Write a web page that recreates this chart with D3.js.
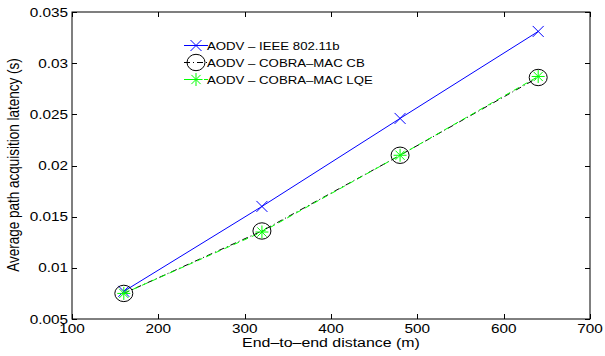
<!DOCTYPE html>
<html><head><meta charset="utf-8">
<script src="https://cdn.jsdelivr.net/npm/d3@7"></script>
<style>body{margin:0;background:#fff}svg{display:block}text{font-family:"Liberation Sans",Arial,Helvetica,sans-serif;fill:#000}</style>
</head><body>
<svg id="c" width="605" height="356"></svg>
<script>
const distances = [160, 320, 480, 640];
const ieee = [0.0077, 0.0160, 0.0246, 0.0331];
const cobraCB = [0.0075, 0.0136, 0.0210, 0.0286];
const cobraLQE = [0.0075, 0.0135, 0.0210, 0.0287];
const seriesNames = ["AODV \u2013 IEEE 802.11b", "AODV \u2013 COBRA\u2013MAC CB", "AODV \u2013 COBRA\u2013MAC LQE"];
const xTicks = [100, 200, 300, 400, 500, 600, 700];
const yTicks = [0.005, 0.01, 0.015, 0.02, 0.025, 0.03, 0.035];
const xTickLabels = ["100", "200", "300", "400", "500", "600", "700"];
const yTickLabels = ["0.005", "0.01", "0.015", "0.02", "0.025", "0.03", "0.035"];

const SX = 1.18;
const svg = d3.select("#c");
const L = 72, R = 590, T = 12, B = 319;
const x = d3.scaleLinear().domain([100, 700]).range([L, R]);
const y = d3.scaleLinear().domain([0.005, 0.035]).range([B, T]);

function stext(g, px, py, str, size, anchor) {
  return g.append("text").attr("transform", `translate(${px},${py}) scale(${SX},1)`)
    .attr("text-anchor", anchor).style("font-size", size + "px").text(str);
}

// box
svg.append("rect").attr("x", L).attr("y", T).attr("width", R - L).attr("height", B - T)
  .attr("fill", "none").attr("stroke", "#000").attr("stroke-width", 1);

const tk = 5;
const gx = svg.append("g");
xTicks.forEach((v, i) => {
  const px = Math.round(x(v)) + 0.5;
  gx.append("line").attr("x1", px).attr("x2", px).attr("y1", B).attr("y2", B - tk).attr("stroke", "#000");
  gx.append("line").attr("x1", px).attr("x2", px).attr("y1", T).attr("y2", T + tk).attr("stroke", "#000");
  stext(gx, x(v), B + 13.5, xTickLabels[i], 13, "middle");
});
yTicks.forEach((v, i) => {
  const py = Math.round(y(v)) + 0.5;
  gx.append("line").attr("x1", L).attr("x2", L + tk).attr("y1", py).attr("y2", py).attr("stroke", "#000");
  gx.append("line").attr("x1", R).attr("x2", R - tk).attr("y1", py).attr("y2", py).attr("stroke", "#000");
  stext(gx, L - 4, y(v) + 4.5, yTickLabels[i], 13, "end");
});

// axis labels
stext(svg, (L + R) / 2, 347, "End\u2013to\u2013end distance (m)", 13.5, "middle");
svg.append("text").attr("transform", `translate(19,165) scale(${SX},1) rotate(-90)`)
  .attr("text-anchor", "middle").style("font-size", "13.5px").text("Average path acquisition latency (s)");

const line = d3.line().x(d => x(d[0])).y(d => y(d[1]));
const pts = arr => distances.map((d, i) => [d, arr[i]]);

// markers
function xMark(g, cx, cy, color, s) {
  g.append("path").attr("d", `M${cx - s},${cy - s}L${cx + s},${cy + s}M${cx - s},${cy + s}L${cx + s},${cy - s}`)
    .attr("stroke", color).attr("stroke-width", 1).attr("fill", "none");
}
function circMark(g, cx, cy) {
  g.append("ellipse").attr("cx", cx).attr("cy", cy).attr("rx", 9).attr("ry", 8.2)
    .attr("stroke", "#000").attr("stroke-width", 1).attr("fill", "none");
}
function starMark(g, cx, cy, color) {
  const r = 6.5, d = 4.6;
  g.append("path").attr("d", `M${cx - r},${cy}L${cx + r},${cy}M${cx},${cy - r}L${cx},${cy + r}M${cx - d},${cy - d}L${cx + d},${cy + d}M${cx - d},${cy + d}L${cx + d},${cy - d}`)
    .attr("stroke", color).attr("stroke-width", 1).attr("fill", "none");
}

const plot = svg.append("g");
plot.append("path").attr("d", line(pts(ieee))).attr("stroke", "#0000ff").attr("fill", "none").attr("stroke-width", 1);
plot.append("path").attr("d", line(pts(cobraCB))).attr("stroke", "#000").attr("fill", "none").attr("stroke-width", 1).attr("stroke-dasharray", "6,3,1,3");
plot.append("path").attr("d", line(pts(cobraLQE))).attr("stroke", "#00ff00").attr("fill", "none").attr("stroke-width", 1).attr("stroke-dasharray", "6,4");
pts(ieee).forEach(p => xMark(plot, x(p[0]), y(p[1]), "#0000ff", 5.5));
pts(cobraCB).forEach(p => circMark(plot, x(p[0]), y(p[1])));
pts(cobraLQE).forEach(p => starMark(plot, x(p[0]), y(p[1]), "#00ff00"));

// legend
const lg = svg.append("g");
const rows = [45.5, 62.5, 79.5];
const lx0 = 184, lx1 = 208, lm = 196;
lg.append("line").attr("x1", lx0).attr("x2", lx1).attr("y1", rows[0]).attr("y2", rows[0]).attr("stroke", "#0000ff");
xMark(lg, lm, rows[0], "#0000ff", 5.5);
lg.append("line").attr("x1", lx0).attr("x2", lx1).attr("y1", rows[1]).attr("y2", rows[1]).attr("stroke", "#000").attr("stroke-dasharray", "6,3,1,3");
circMark(lg, lm, rows[1]);
lg.append("line").attr("x1", lx0).attr("x2", lx1).attr("y1", rows[2]).attr("y2", rows[2]).attr("stroke", "#00ff00").attr("stroke-dasharray", "6,4");
starMark(lg, lm, rows[2], "#00ff00");
seriesNames.forEach((n, i) => stext(lg, 207, rows[i] + 4.5, n, 11.2, "start"));
</script>
</body></html>
